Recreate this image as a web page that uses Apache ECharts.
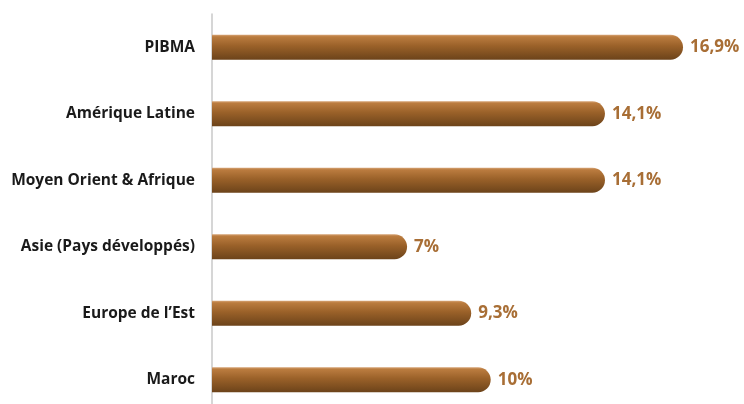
<!DOCTYPE html>
<html>
<head>
<meta charset="utf-8">
<script src="https://cdn.jsdelivr.net/npm/echarts@6/dist/echarts.min.js"></script>
<style>
  html, body { margin: 0; padding: 0; background: #fff; overflow: hidden; }
  #chart { width: 744px; height: 420px; }
</style>
</head>
<body>
<div id="chart"></div>
<script>
// Regions, top to bottom
const categories = [
  'PIBMA',
  'Amérique Latine',
  'Moyen Orient & Afrique',
  'Asie (Pays développés)',
  "Europe de l\u2019Est",
  'Maroc'
];
// Share in percent
const values = [16.9, 14.1, 14.1, 7, 9.3, 10];

const chart = echarts.init(document.getElementById('chart'), null, { renderer: 'canvas' });

const barFill = new echarts.graphic.LinearGradient(0, 0, 0, 1, [
  { offset: 0, color: '#d6a476' },
  { offset: 0.08, color: '#bb7c3f' },
  { offset: 0.45, color: '#9a6129' },
  { offset: 1, color: '#6c431a' }
]);

chart.setOption({
  animation: false,
  grid: { left: 212, width: 471, top: 14, height: 399, containLabel: false },
  xAxis: {
    type: 'value',
    min: 0,
    max: 16.9,
    show: false
  },
  yAxis: {
    type: 'category',
    inverse: true,
    data: categories,
    axisLine: { show: true, lineStyle: { color: '#c9c9c9', width: 1.5 } },
    axisTick: { show: false },
    axisLabel: {
      margin: 17,
      color: '#1a1a1a',
      fontFamily: 'Open Sans',
      fontWeight: 'bold',
      fontSize: 15.5
    }
  },
  series: [{
    type: 'bar',
    data: values,
    barWidth: 25,
    itemStyle: {
      color: barFill,
      borderRadius: [0, 12.5, 12.5, 0]
    },
    label: {
      show: true,
      position: 'right',
      distance: 7,
      color: '#a86e35',
      fontFamily: 'Open Sans',
      fontWeight: 'bold',
      fontSize: 17,
      formatter: p => String(p.value).replace('.', ',') + '%'
    }
  }]
});
</script>
</body>
</html>
